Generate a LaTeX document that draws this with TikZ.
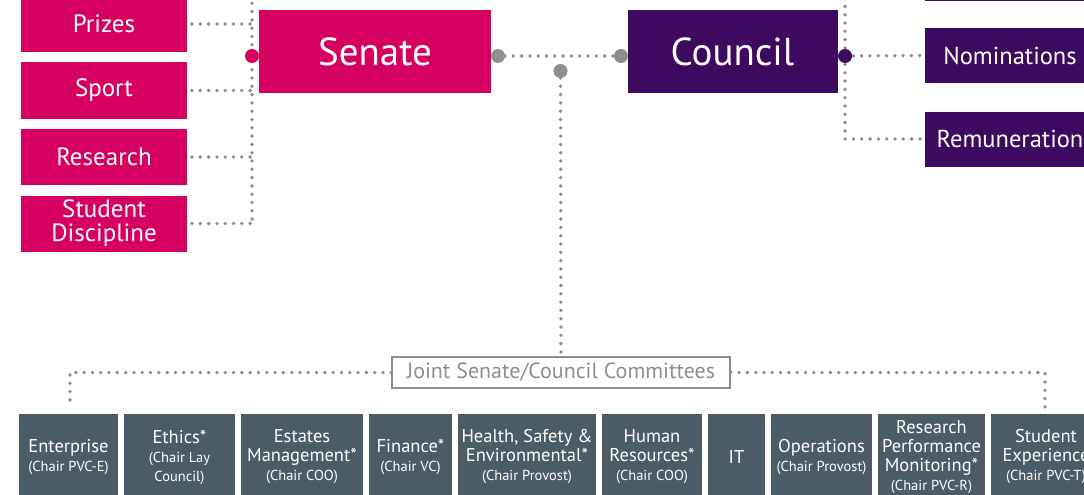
\documentclass[tikz,border=0pt]{standalone}
\usepackage{fontspec}
\setmainfont{PT Sans}
\usetikzlibrary{positioning}

\definecolor{senatepink}{HTML}{D5005F}
\definecolor{councilpurple}{HTML}{3D0A60}
\definecolor{jointslate}{HTML}{4B5C66}
\definecolor{linkgray}{HTML}{8E8E8E}

\newcommand{\chairline}[1]{{\fontsize{14.5}{16}\selectfont #1}}

\begin{document}
\begin{tikzpicture}[x=1pt,y=-1pt,
  dotline/.style={draw=linkgray,line width=3.8pt,line cap=round,dash pattern=on 0pt off 8.3pt},
  junction/.style={circle,inner sep=0pt,minimum size=14pt,outer sep=0pt},
  senatesub/.style={fill=senatepink,text=white,minimum width=166pt,minimum height=56pt,
    inner sep=0pt,outer sep=0pt,align=center,font=\fontsize{25}{24}\selectfont},
  councilsub/.style={fill=councilpurple,text=white,minimum width=170pt,minimum height=55pt,
    inner sep=0pt,outer sep=0pt,anchor=west,font=\fontsize{24.5}{24}\selectfont},
  mainbox/.style={text=white,minimum height=83pt,inner sep=0pt,outer sep=0pt,
    font=\fontsize{39}{40}\selectfont},
  jointsub/.style={fill=jointslate,text=white,minimum height=86pt,inner sep=0pt,outer sep=0pt,
    align=center,font=\fontsize{18.5}{19}\selectfont},
  jointbox/.style={draw=linkgray,line width=1.5pt,text=linkgray,minimum width=338pt,
    minimum height=31pt,inner sep=0pt,font=\fontsize{22}{22}\selectfont}]

  \useasboundingbox (0,0) rectangle (1084,495);
  \clip (0,0) rectangle (1084,495);

  % senate side
  \node[senatesub] (prizes) at (104,24) {Prizes};
  \node[senatesub,below=10.5pt of prizes] (sport) {Sport};
  \node[senatesub,below=10.5pt of sport] (research) {Research};
  \node[senatesub,below=10.5pt of research] (discipline) {Student\\Discipline};

  \node[mainbox,fill=senatepink,minimum width=232pt] (senate) at (375,51.5) {Senate};
  \node[mainbox,fill=councilpurple,minimum width=210pt] (council) at (732.5,51.5) {Council};

  % council side
  \node[councilsub] (topsub) at (925,-26.5) {};
  \node[councilsub] (nominations) at (925,55.5) {Nominations};
  \node[councilsub] (remuneration) at (925,139) {Remuneration};

  % joint committees
  \node[jointbox] (joint) at (561,372.5) {Joint Senate/Council Committees};

  \node[jointsub,minimum width=99pt] (enterprise) at (68.5,457) {Enterprise\\\chairline{(Chair PVC-E)}};
  \node[jointsub,minimum width=111pt,right=6pt of enterprise] (ethics) {Ethics*\\\chairline{(Chair Lay}\\\chairline{Council)}};
  \node[jointsub,minimum width=122pt,right=6pt of ethics] (estates) {Estates\\Management*\\\chairline{(Chair COO)}};
  \node[jointsub,minimum width=83pt,right=6pt of estates] (finance) {Finance*\\\chairline{(Chair VC)}};
  \node[jointsub,minimum width=138pt,right=6pt of finance] (health) {Health, Safety \&\\Environmental*\\\chairline{(Chair Provost)}};
  \node[jointsub,minimum width=100pt,right=6pt of health] (humanres) {Human\\Resources*\\\chairline{(Chair COO)}};
  \node[jointsub,minimum width=57pt,right=6pt of humanres] (itcom) {IT};
  \node[jointsub,minimum width=101pt,right=6pt of itcom] (operations) {Operations\\\chairline{(Chair Provost)}};
  \node[jointsub,minimum width=107pt,right=6pt of operations] (monitoring) {Research\\Performance\\Monitoring*\\\chairline{(Chair PVC-R)}};
  \node[jointsub,minimum width=110pt,right=6pt of monitoring] (experience) {Student\\Experience\\\chairline{(Chair PVC-T)}};

  % links
  \coordinate (spinetop) at (252,-5);
  \coordinate (jointleft) at (70,407);
  \coordinate (jointright) at (1045,407);

  \draw[dotline] (spinetop) -- (spinetop |- discipline.east);
  \foreach \sub in {prizes,sport,research,discipline}
    \draw[dotline,shorten <=5pt] (\sub.east) -- (\sub.east -| spinetop);

  \draw[dotline,shorten <=5pt] (topsub.west) -| (845,139) -- ([xshift=-5pt]remuneration.west);
  \draw[dotline] (845,56) -- ([xshift=-5pt]nominations.west);

  \node[junction,fill=linkgray] (senatedot) at (498,56) {};
  \node[junction,fill=linkgray] (councildot) at (621,56) {};
  \node[junction,fill=linkgray] (jointdot) at (560.5,71) {};
  \draw[dotline] (senatedot) -- (councildot);
  \draw[dotline] (jointdot) -- (joint.north);

  \draw[dotline] (joint.west) -| (jointleft);
  \draw[dotline] (joint.east) -| (jointright);

  \node[junction,fill=senatepink] (spinedot) at (252,56) {};
  \node[junction,fill=councilpurple] (nomdot) at (845,56) {};
\end{tikzpicture}
\end{document}
